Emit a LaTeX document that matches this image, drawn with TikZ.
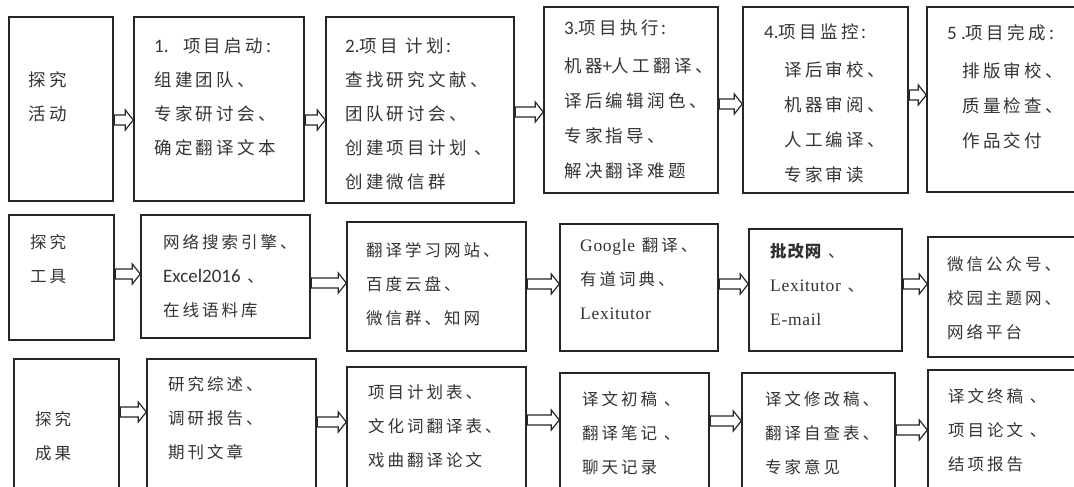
\documentclass[tikz,border=0pt]{standalone}
\usepackage{fontspec}
\usetikzlibrary{calc}
\newfontfamily\cjk{Noto Sans CJK SC}[LetterSpace=18]
\newfontfamily\cjkA{Noto Sans CJK SC}[LetterSpace=19]
\newfontfamily\cjkb{Noto Sans CJK SC}[LetterSpace=5]
\newfontfamily\calfont{Carlito}
\newfontfamily\tmsfont{Liberation Serif}[LetterSpace=4]
\newcommand\bx[5]{\node[bx, minimum width={#4-#2}, minimum height={#5-#3}] (#1) at ({(#2+#4)/2},{(#3+#5)/2}) {};}
\newcommand\barrow[3]{\draw[arr] let \p1=(#1.east|-0,#3), \p2=(#2.west|-0,#3) in
  (\x1+0.5pt,\y1+5pt) -- (\x2-8pt,\y1+5pt) -- (\x2-8pt,\y1+10pt) -- (\x2,\y1) -- (\x2-8pt,\y1-10pt) -- (\x2-8pt,\y1-5pt) -- (\x1+0.5pt,\y1-5pt) -- cycle;}
\newcommand\lat[1]{{\calfont\fontsize{19}{34}\selectfont #1}}
\newcommand\tms[1]{{\tmsfont\fontsize{17.5}{34}\selectfont #1}}
\tikzset{
  bx/.style={draw=black!85, line width=1.4pt, inner sep=0pt},
  txt/.style={anchor=north west, inner sep=0pt, align=left, text=black!80, font=\cjk\fontsize{16.5}{34}\selectfont},
  txtA/.style={txt, font=\cjkA\fontsize{17.5}{34}\selectfont},
  txtB/.style={txt, font=\cjkA\fontsize{17.5}{35}\selectfont},
  arr/.style={draw=black!85, line width=1.2pt, fill=white, line join=miter}
}
\begin{document}
\begin{tikzpicture}[x=1pt,y=-1pt]
\useasboundingbox (0,0) rectangle (1074,487);
\clip (0,0) rectangle (1074,487);
% row 1
\bx{A1}{9}{17}{113}{201}
\bx{B1}{134}{17}{304}{201}
\bx{C1}{326}{17}{514}{203}
\bx{D1}{544}{7}{718}{193}
\bx{E1}{743}{7}{908}{193}
\bx{F1}{927}{7}{1090}{192}
% row 2
\bx{A2}{9}{215}{114}{340}
\bx{B2}{141}{215}{310}{338}
\bx{C2}{347}{222}{526}{351}
\bx{D2}{560}{224}{718}{351}
\bx{E2}{749}{229}{902}{351}
\bx{F2}{928}{237}{1090}{357}
% row 3
\bx{A3}{14}{359}{119}{500}
\bx{B3}{147}{359}{316}{500}
\bx{C3}{347}{367}{526}{500}
\bx{D3}{560}{373}{709}{500}
\bx{E3}{742}{373}{895}{500}
\bx{F3}{928}{370}{1090}{500}
% arrows
\barrow{A1}{B1}{120}
\barrow{B1}{C1}{120}
\barrow{C1}{D1}{112}
\barrow{D1}{E1}{104}
\barrow{E1}{F1}{95}
\barrow{A2}{B2}{274}
\barrow{B2}{C2}{283}
\barrow{C2}{D2}{284}
\barrow{D2}{E2}{284}
\barrow{E2}{F2}{284}
\barrow{A3}{B3}{412}
\barrow{B3}{C3}{422}
\barrow{C3}{D3}{420}
\barrow{D3}{E3}{421}
\barrow{E3}{F3}{430}
% texts row 1
\node[txtA] (tA1) at (28,71) {探究\\活动};
\node[txtA] (tB1) at (154,38) {\lat{1.}\ \ 项目启动:\\组建团队、\\专家研讨会、\\确定翻译文本};
\node[txtA] (tC1) at (345,38) {\lat{2.}项目 计划:\\查找研究文献、\\团队研讨会、\\创建项目计划 、\\创建微信群};
\node[txtB] (tD1) at (564,20) {\lat{3.}项目执行:\\[3pt]机器\lat{+}人工翻译、\\译后编辑润色、\\专家指导、\\解决翻译难题};
\node[txtB] (tE1) at (764,24) {\lat{4.}项目监控:\\[3pt]\hspace*{20pt}译后审校、\\\hspace*{20pt}机器审阅、\\\hspace*{20pt}人工编译、\\\hspace*{20pt}专家审读};
\node[txtB] (tF1) at (947,24) {\lat{5 .}项目完成:\\[3pt]\hspace*{15pt}排版审校、\\\hspace*{15pt}质量检查、\\\hspace*{15pt}作品交付};
% texts row 2
\node[txt] (tA2) at (30,234) {探究\\工具};
\node[txt] (tB2) at (163,234) {网络搜索引擎、\\\lat{Excel2016} 、\\在线语料库};
\node[txt] (tC2) at (366,242) {翻译学习网站、\\百度云盘、\\微信群、知网};
\node[txt] (tD2) at (580,238) {\tms{Google} 翻译、\\有道词典、\\\tms{Lexitutor}};
\node[txt] (tE2) at (770,243) {{\cjkb\bfseries 批改网} 、\\\tms{Lexitutor} 、\\\tms{E-mail}};
\node[txt] (tF2) at (947,256) {微信公众号、\\校园主题网、\\网络平台};
% texts row 3
\node[txt] (tA3) at (35,411) {探究\\成果};
\node[txt] (tB3) at (168,376) {研究综述、\\调研报告、\\期刊文章};
\node[txt] (tC3) at (368,384) {项目计划表、\\文化词翻译表、\\戏曲翻译论文};
\node[txt] (tD3) at (582,391) {译文初稿 、\\翻译笔记 、\\聊天记录};
\node[txt] (tE3) at (765,391) {译文修改稿、\\翻译自查表、\\专家意见};
\node[txt] (tF3) at (948,388) {译文终稿 、\\项目论文 、\\结项报告};
\end{tikzpicture}
\end{document}
